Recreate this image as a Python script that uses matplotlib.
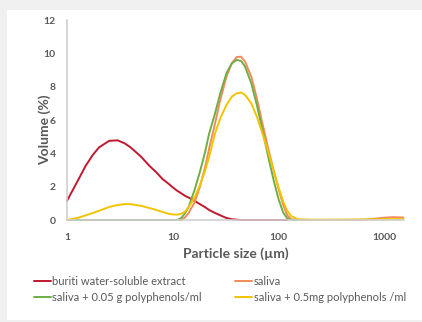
import matplotlib
matplotlib.use("Agg")
import matplotlib.pyplot as plt
from matplotlib.patches import Rectangle
import numpy as np

nan = np.nan

# particle size grid (um)
sizes = [1, 1.25, 1.5, 1.75, 2, 2.5, 3, 3.5, 4, 5, 6, 7, 8, 9, 10, 11, 12, 13, 14,
         16, 18, 20, 22, 25, 28, 32, 36, 40, 44, 48, 55, 62, 70, 80, 90, 100, 110,
         120, 130, 150, 200, 300, 500, 650, 800, 1000, 1200, 1500]

buriti = [1.15, 2.3, 3.25, 3.9, 4.35, 4.75, 4.78, 4.6, 4.35, 3.8, 3.25, 2.85, 2.45, 2.2,
          1.95, 1.75, 1.6, 1.45, 1.35, 1.15, 0.95, 0.78, 0.6, 0.42, 0.28, 0.12, 0.05,
          0.02, 0, 0, 0, 0, 0, 0, 0, 0, 0, 0, nan, nan, nan, nan, nan, nan, nan, nan,
          nan, nan]

saliva = [0, 0, 0, 0, 0, 0, 0, 0, 0, 0, 0, 0, 0, 0, 0, 0, 0, 0.15, 0.4, 1.05, 2.0, 3.1,
          4.3, 5.8, 7.2, 8.6, 9.4, 9.78, 9.8, 9.5, 8.6, 7.3, 5.8, 4.2, 2.9, 1.8, 0.9,
          0.3, 0.05, 0, 0, 0, 0, 0.02, 0.08, 0.14, 0.17, 0.15]

saliva_005g = [0, 0, 0, 0, 0, 0, 0, 0, 0, 0, 0, 0, 0, 0, 0, 0, 0.12, 0.4, 0.75, 1.8,
               2.9, 4.0, 5.2, 6.4, 7.6, 8.8, 9.4, 9.6, 9.55, 9.2, 8.2, 6.9, 5.4, 3.7,
               2.3, 1.2, 0.45, 0.1, 0.01, 0, nan, nan, nan, nan, nan, nan, nan, nan]

saliva_05mg = [0, 0.12, 0.28, 0.42, 0.55, 0.78, 0.9, 0.95, 0.95, 0.85, 0.72, 0.6, 0.48,
               0.38, 0.33, 0.32, 0.38, 0.5, 0.75, 1.35, 2.1, 2.9, 3.8, 5.2, 6.1, 6.9,
               7.4, 7.6, 7.65, 7.5, 7.0, 6.2, 5.2, 4.0, 2.9, 1.9, 1.1, 0.55, 0.25, 0.05,
               0.02, 0.02, 0.03, 0.03, 0.04, 0.05, 0.05, 0.05]

series_labels = ["buriti water-soluble extract", "saliva",
                 "saliva + 0.05 g polyphenols/ml", "saliva + 0.5mg polyphenols /ml"]
series_colors = ["#C0182E", "#F08C5A", "#6FAE45", "#F2C400"]

x_ticks = [1, 10, 100, 1000]
y_ticks = [0, 2, 4, 6, 8, 10, 12]

text_gray = "#595959"
plt.rcParams["font.family"] = ["Lato", "DejaVu Sans"]

fig = plt.figure(figsize=(4.22, 3.22), dpi=100, facecolor="#F0F0F0")
fig.patches.append(Rectangle((7 / 422, 2 / 322), 1, 310 / 322, transform=fig.transFigure,
                             facecolor="white", edgecolor="none", zorder=-5))

ax = fig.add_axes([67 / 422, 102 / 322, 337 / 422, 200 / 322])
ax.set_facecolor("none")

handles = []
for values, label, color in zip([buriti, saliva, saliva_005g, saliva_05mg],
                                series_labels, series_colors):
    (line,) = ax.plot(sizes, values, color=color, linewidth=1.4, label=label,
                      solid_capstyle="round", clip_on=False)
    handles.append(line)

ax.set_xscale("log")
ax.set_xlim(1, 1520)
ax.set_ylim(0, 12)
ax.set_xticks(x_ticks)
ax.set_xticklabels([str(t) for t in x_ticks])
ax.minorticks_off()
ax.set_yticks(y_ticks)
ax.tick_params(axis="both", length=0, labelsize=7.5, labelcolor=text_gray)
ax.tick_params(axis="x", pad=9)
ax.tick_params(axis="y", pad=8)
for lbl in ax.get_xticklabels() + ax.get_yticklabels():
    lbl.set_fontweight("bold")

for side in ["top", "right"]:
    ax.spines[side].set_visible(False)
for side in ["left", "bottom"]:
    ax.spines[side].set_color("#D0D0D0")
    ax.spines[side].set_linewidth(1.2)

ax.set_xlabel("Particle size (µm)", fontsize=10, fontweight="bold", color=text_gray,
              labelpad=4)
ax.set_ylabel("Volume (%)", fontsize=10, fontweight="bold", color=text_gray)
ax.yaxis.set_label_coords(-0.047, 0.45)

# legend fills column-wise, so reorder to get row-wise reading order
order = [0, 2, 1, 3]
fig.legend([handles[i] for i in order], [series_labels[i] for i in order],
           loc="upper left", bbox_to_anchor=(34 / 422, 1 - 276 / 322),
           ncol=2, frameon=False, fontsize=8, handlelength=1.5, handletextpad=0.15,
           columnspacing=3.0, labelspacing=0.45, labelcolor=text_gray, borderpad=0,
           borderaxespad=0)

fig.savefig("out.png", dpi=100, facecolor=fig.get_facecolor())
